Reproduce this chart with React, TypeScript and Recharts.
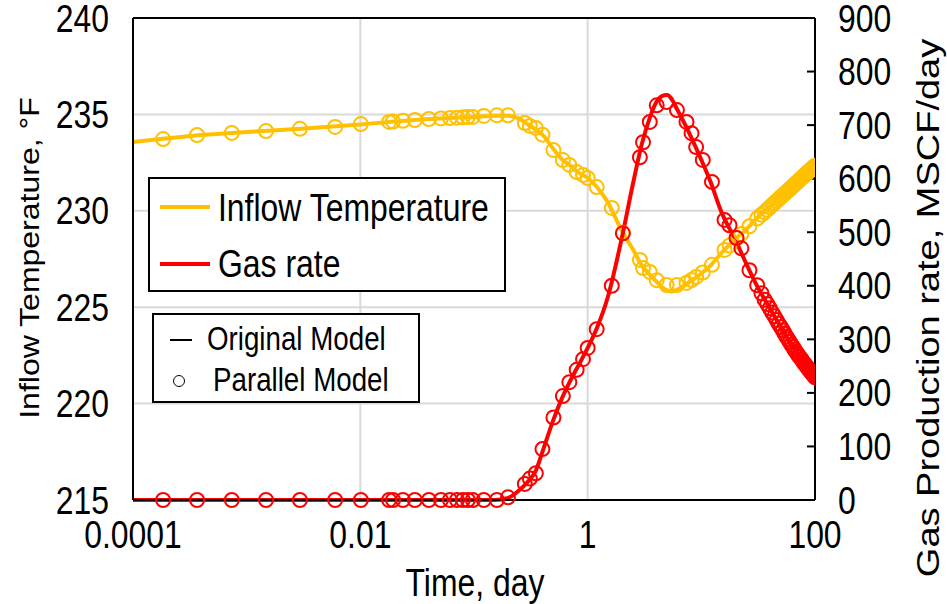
import { ComposedChart, Line, Scatter, XAxis, YAxis, CartesianGrid, ReferenceLine, Label } from 'recharts';

// original model (solid lines)
const modelTime = [0.0001, 0.0002, 0.0004, 0.001, 0.003, 0.01, 0.03, 0.06, 0.1, 0.15, 0.2, 0.25, 0.3, 0.35, 0.4, 0.5, 0.6, 0.7, 0.8, 1.0, 1.2, 1.5, 2.0, 2.5, 3.0, 3.5, 4.0, 4.5, 5.0, 5.5, 6.0, 7.0, 8.0, 9.0, 10, 12, 15, 20, 25, 30, 40, 50, 60, 70, 80, 90, 100];
const modelTemp = [233.57, 233.76, 233.93, 234.09, 234.25, 234.48, 234.71, 234.81, 234.87, 234.93, 234.93, 234.78, 234.47, 234.22, 233.95, 233.2, 232.65, 232.35, 232.05, 231.7, 231.25, 230.45, 228.95, 228.0, 227.15, 226.7, 226.35, 226.05, 225.88, 225.82, 225.88, 226.1, 226.35, 226.55, 226.75, 227.15, 227.8, 228.55, 229.05, 229.55, 230.2, 230.7, 231.13, 231.5, 231.82, 232.09, 232.35];
const modelGas = [0, 0, 0, 0, 0, 0, 0, 0, 0, 0, 4, 18, 35, 55, 90, 150, 192, 222, 245, 284, 320, 378, 490, 590, 665, 712, 742, 754, 756, 748, 733, 706, 681, 657, 635, 595, 538, 485, 440, 405, 358, 323, 295, 273, 256, 242, 229];

// parallel model (circles)
const parTime = [0.000184, 0.000366, 0.00074, 0.00148, 0.00294, 0.006, 0.0101, 0.0179, 0.0194, 0.0237, 0.0302, 0.0401, 0.0512, 0.0614, 0.0708, 0.0798, 0.0883, 0.0977, 0.122, 0.159, 0.199, 0.28, 0.31, 0.35, 0.4, 0.5, 0.605, 0.69, 0.8, 0.91, 1.0, 1.2, 1.63, 2.04, 2.88, 3.07, 3.52, 4.05, 4.95, 6.1, 7.4, 8.2, 9.0, 10.3, 12.4, 16, 17.7, 20.4, 22.5, 26.5, 31, 33.8,
  36, 38, 40, 42, 44, 46, 48, 50, 52, 54, 56, 58, 60, 62, 64, 66, 68, 70, 72, 74, 76, 78, 80, 82, 84, 86, 88, 90, 92, 94, 96, 98, 100];
const parTemp = [233.72, 233.93, 234.04, 234.14, 234.25, 234.35, 234.5, 234.61, 234.63, 234.67, 234.71, 234.76, 234.79, 234.81, 234.83, 234.85, 234.86, 234.87, 234.92, 234.95, 234.95, 234.55, 234.4, 234.3, 233.95, 233.15, 232.63, 232.38, 232.01, 231.86, 231.7, 231.23, 230.15, 228.85, 227.45, 227.03, 226.83, 226.4, 226.15, 226.15, 226.26, 226.41, 226.57, 226.8, 227.2, 227.97, 228.2, 228.6, 228.8, 229.2, 229.6, 229.8,
  229.93, 230.06, 230.18, 230.3, 230.4, 230.51, 230.61, 230.71, 230.8, 230.89, 230.97, 231.05, 231.13, 231.21, 231.29, 231.36, 231.43, 231.5, 231.56, 231.63, 231.69, 231.75, 231.81, 231.87, 231.93, 231.98, 232.04, 232.09, 232.14, 232.19, 232.24, 232.29, 232.34];
const parGas = [0, 0, 0, 0, 0, 0, 0, 0, 0, 0, 0, 0, 0, 0, 0, 0, 0, 0, 0, 0, 5, 30, 40, 50, 95, 154, 194, 220, 243, 263, 284, 319, 400, 498, 640, 668, 706, 737, 743, 728, 706, 685, 659, 635, 594, 523, 513, 489, 470, 429, 401, 386,
  374, 366, 358, 350, 343, 336, 329, 323, 317, 311, 305, 300, 295, 290, 286, 281, 277, 273, 269, 266, 263, 259, 256, 253, 250, 247, 244, 242, 239, 237, 234, 232, 229];

const timeTicks = [0.0001, 0.01, 1, 100];
const timeTickLabels = ['0.0001', '0.01', '1', '100'];
const tempTicks = [215, 220, 225, 230, 235, 240];
const gasTicks = [0, 100, 200, 300, 400, 500, 600, 700, 800, 900];

const modelData = modelTime.map((t, i) => ({ t, temp: modelTemp[i], gas: modelGas[i] }));
const parallelData = parTime.map((t, i) => ({ t, temp: parTemp[i], gas: parGas[i] }));

const YELLOW = '#FFC000';
const RED = '#FF0000';
const FONT = "'Liberation Sans', Arial, sans-serif";
const SQ = 0.84; // the reference text is horizontally condensed

const ring = (color: string) => (props: any) => (
  <circle cx={props.cx} cy={props.cy} r={7} fill="none" stroke={color} strokeWidth={2} />
);

const NarrowTick = (props: any) => {
  const { x, y, payload, textAnchor, side } = props;
  const label = side === 'x' ? timeTickLabels[timeTicks.indexOf(payload.value)] ?? String(payload.value) : String(payload.value);
  return (
    <text
      transform={`translate(${x},${y}) scale(${SQ},1)`}
      textAnchor={textAnchor}
      dy={side === 'x' ? '0.71em' : '0.355em'}
      fontSize={38}
      fontFamily={FONT}
      fill="#000"
    >
      {label}
    </text>
  );
};

export default function App() {
  return (
    <div style={{ position: 'absolute', left: 0, top: 0, width: 947, height: 604, background: '#fff' }}>
      <ComposedChart width={947} height={604} data={modelData} margin={{ top: 18, right: 0, bottom: 0, left: 0 }}>
        <CartesianGrid xAxisId="x" yAxisId="left" stroke="#d9d9d9" strokeWidth={2} />
        <XAxis
          xAxisId="x"
          dataKey="t"
          type="number"
          scale="log"
          domain={[0.0001, 100]}
          ticks={timeTicks}
          allowDataOverflow
          height={104}
          tickSize={0}
          tickMargin={21}
          axisLine={{ stroke: '#000', strokeWidth: 2 }}
          tickLine={false}
          tick={<NarrowTick side="x" />}
        >
          <Label
            content={() => (
              <text transform={`translate(475,582) scale(${SQ},1)`} textAnchor="middle" dominantBaseline="central" fontSize={38} fontFamily={FONT} fill="#000">
                Time, day
              </text>
            )}
          />
        </XAxis>
        <YAxis
          yAxisId="left"
          orientation="left"
          domain={[215, 240]}
          ticks={tempTicks}
          width={133}
          tickSize={0}
          tickMargin={24}
          axisLine={{ stroke: '#000', strokeWidth: 2 }}
          tickLine={false}
          tick={<NarrowTick side="y" />}
        >
          <Label
            content={() => (
              <text transform={`translate(29,258) scale(${SQ},1) rotate(-90)`} textAnchor="middle" dominantBaseline="central" fontSize={32} fontFamily={FONT} fill="#000">
                Inflow Temperature, °F
              </text>
            )}
          />
        </YAxis>
        <YAxis
          yAxisId="right"
          orientation="right"
          domain={[0, 900]}
          ticks={gasTicks}
          width={132}
          tickSize={-8}
          tickMargin={31}
          axisLine={{ stroke: '#000', strokeWidth: 2 }}
          tickLine={{ stroke: '#000', strokeWidth: 2 }}
          tick={<NarrowTick side="y" />}
        >
          <Label
            content={() => (
              <text transform={`translate(928,308) scale(${SQ},1) rotate(-90)`} textAnchor="middle" dominantBaseline="central" fontSize={38} fontFamily={FONT} fill="#000">
                Gas Production rate, MSCF/day
              </text>
            )}
          />
        </YAxis>
        <ReferenceLine xAxisId="x" yAxisId="left" y={240} stroke="#000" strokeWidth={2} />
        <Scatter xAxisId="x" yAxisId="left" data={parallelData} dataKey="temp" shape={ring(YELLOW)} isAnimationActive={false} />
        <Line xAxisId="x" yAxisId="left" dataKey="temp" type="monotone" stroke={YELLOW} strokeWidth={4} dot={false} isAnimationActive={false} />
        <Scatter xAxisId="x" yAxisId="right" data={parallelData} dataKey="gas" shape={ring(RED)} isAnimationActive={false} />
        <Line xAxisId="x" yAxisId="right" dataKey="gas" type="monotone" stroke={RED} strokeWidth={4} dot={false} isAnimationActive={false} />
      </ComposedChart>

      <div style={{ position: 'absolute', left: 148, top: 177, width: 354, height: 111, border: '2px solid #000', background: '#fff', fontFamily: FONT, fontSize: 38 }}>
        <div style={{ position: 'absolute', left: 10, top: 26, width: 50, height: 4, background: YELLOW }} />
        <div style={{ position: 'absolute', left: 68, top: 5, lineHeight: '48px', whiteSpace: 'nowrap', transform: `scaleX(${SQ})`, transformOrigin: 'left center' }}>Inflow Temperature</div>
        <div style={{ position: 'absolute', left: 10, top: 83, width: 50, height: 4, background: RED }} />
        <div style={{ position: 'absolute', left: 68, top: 61, lineHeight: '48px', whiteSpace: 'nowrap', transform: `scaleX(${SQ})`, transformOrigin: 'left center' }}>Gas rate</div>
      </div>

      <div style={{ position: 'absolute', left: 152, top: 313, width: 264, height: 86, border: '2px solid #000', background: '#fff', fontFamily: FONT, fontSize: 33 }}>
        <div style={{ position: 'absolute', left: 16, top: 24, width: 22, height: 2, background: '#000' }} />
        <div style={{ position: 'absolute', left: 53, top: 2, lineHeight: '44px', whiteSpace: 'nowrap', transform: `scaleX(${SQ})`, transformOrigin: 'left center' }}>Original Model</div>
        <div style={{ position: 'absolute', left: 19, top: 60, width: 10, height: 10, border: '1.5px solid #000', borderRadius: '50%' }} />
        <div style={{ position: 'absolute', left: 59, top: 43, lineHeight: '44px', whiteSpace: 'nowrap', transform: `scaleX(${SQ})`, transformOrigin: 'left center' }}>Parallel Model</div>
      </div>
    </div>
  );
}
